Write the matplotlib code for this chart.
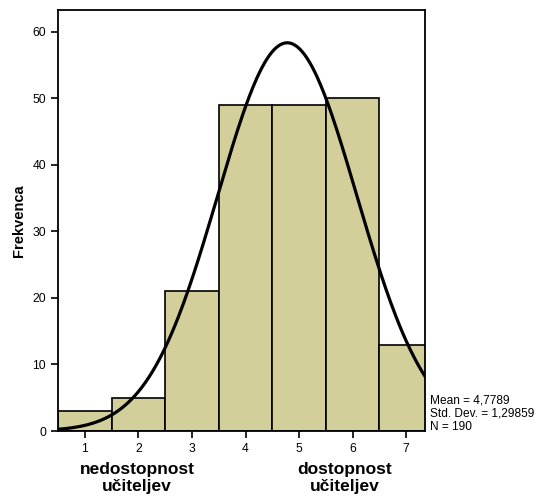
import numpy as np
import matplotlib
matplotlib.use("Agg")
import matplotlib.pyplot as plt

# histogram data
categories = [1, 2, 3, 4, 5, 6, 7]
counts = [3, 5, 21, 49, 49, 50, 13]
mean_val = 4.7789
std_val = 1.29859
n_val = 190
y_ticks = [0, 10, 20, 30, 40, 50, 60]

plt.rcParams['font.family'] = ['Liberation Sans', 'DejaVu Sans']

fig = plt.figure(figsize=(5.38, 4.99), dpi=100)
ax = fig.add_axes([58 / 538, 1 - 431 / 499, (425 - 58) / 538, (431 - 10) / 499])

ax.bar(categories, counts, width=1.0, color='#d3cf9b', edgecolor='black', linewidth=1.2)

# normal curve scaled to counts
xs = np.linspace(0.5, 7.35, 300)
pdf = np.exp(-0.5 * ((xs - mean_val) / std_val) ** 2) / (std_val * np.sqrt(2 * np.pi))
ax.plot(xs, n_val * pdf, color='black', linewidth=2.3)

ax.set_xlim(0.5, 7.35)
ax.set_ylim(0, 63.3)
ax.set_xticks(categories)
ax.set_yticks(y_ticks)
ax.tick_params(axis='both', labelsize=8.7, width=1.2, length=5, direction='out')
for s in ax.spines.values():
    s.set_linewidth(1.3)

ax.set_ylabel("Frekvenca", fontsize=10.5, fontweight='bold', labelpad=5)

fig.text(137 / 538, 1 - 478 / 499, "nedostopnost\nučiteljev", ha='center', va='center',
         fontsize=12.5, fontweight='bold', linespacing=1.1)
fig.text(345 / 538, 1 - 478 / 499, "dostopnost\nučiteljev", ha='center', va='center',
         fontsize=12.5, fontweight='bold', linespacing=1.1)

fig.text(430 / 538, 1 - 414 / 499,
         "Mean = 4,7789\nStd. Dev. = 1,29859\nN = 190",
         ha='left', va='center', fontsize=8.6, linespacing=1.15)

fig.savefig("out.png", dpi=100)
